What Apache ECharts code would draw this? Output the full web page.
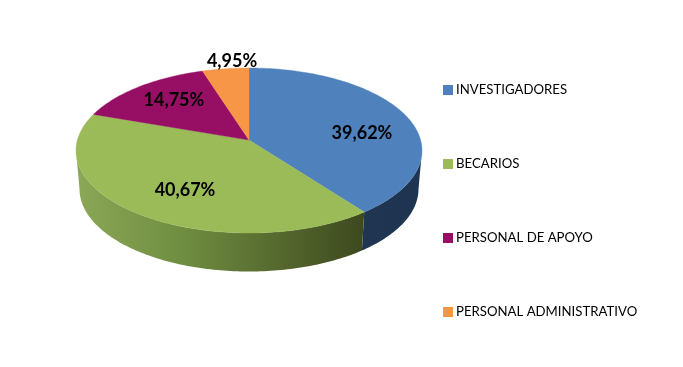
<!DOCTYPE html>
<html>
<head>
<meta charset="utf-8">
<style>html,body{margin:0;padding:0;background:#fff}#c{width:683px;height:367px}</style>
<script src="https://cdn.jsdelivr.net/npm/echarts@6/dist/echarts.min.js"></script>
</head>
<body>
<div id="c"></div>
<script>
const categories = ['INVESTIGADORES', 'BECARIOS', 'PERSONAL DE APOYO', 'PERSONAL ADMINISTRATIVO'];
const shares = [39.62, 40.67, 14.75, 4.95];
const shareLabels = ['39,62%', '40,67%', '14,75%', '4,95%'];
const topColors = ['#4f81bd', '#9bbb59', '#970f65', '#f79646'];

// layout of the tilted disc
const FONT = 'Lato, "Open Sans", sans-serif';
const disc = { cx: 249, cy: 150.5, rx: 173, ry: 82.5, apex: -0.127 };
const base = { cx: 249, cy: 189, rx: 169.5, ry: 82.5 };
// label centre per slice, in disc radii from the disc centre
const labelAt = [[0.653, -0.208], [-0.37, 0.484], [-0.434, -0.608], [-0.098, -1.088]];
const wallFills = [
  { stops: [[0, '#1f3552'], [1, '#1f3450']] },
  { stops: [[0, '#8ba757'], [0.35, '#718f42'], [0.7, '#56692f'], [1, '#3d491e']] },
  { stops: [[0, '#5c0a3e'], [1, '#5c0a3e']] },
  { stops: [[0, '#a8652c'], [1, '#a8652c']] }
];

const TAU = Math.PI * 2;
const total = shares.reduce((a, b) => a + b, 0);

// perspective: sector rays start at the apex, above the ellipse centre; returns unit-circle angle
function rimAngle(theta) {
  const dx = Math.sin(theta), dy = -Math.cos(theta), a0 = disc.apex;
  const b = a0 * dy;
  const t = -b + Math.sqrt(b * b - (a0 * a0 - 1));
  return Math.atan2(t * dx, -(a0 + t * dy));
}
function norm(phi) { return phi < 0 ? phi + TAU : phi; }
function onEllipse(e, phi) { return [e.cx + e.rx * Math.sin(phi), e.cy - e.ry * Math.cos(phi)]; }
function arc(e, p0, p1) {
  const n = Math.max(2, Math.ceil(Math.abs(p1 - p0) / 0.02)), out = [];
  for (let i = 0; i <= n; i++) out.push(onEllipse(e, p0 + (p1 - p0) * i / n));
  return out;
}

function renderSlice(sliceIndex) {
  const before = shares.slice(0, sliceIndex).reduce((a, b) => a + b, 0);
  const start = before / total * TAU, end = (before + shares[sliceIndex]) / total * TAU;
  const p0 = sliceIndex === 0 ? 0 : norm(rimAngle(start));
  const p1 = sliceIndex === shares.length - 1 ? TAU : norm(rimAngle(end));
  const children = [];
  const w0 = Math.max(p0, Math.PI / 2), w1 = Math.min(p1, Math.PI * 1.5);
  if (w1 > w0) {
    const wall = arc(disc, w0, w1).concat(arc(base, w0, w1).reverse());
    children.push({
      type: 'polygon',
      shape: { points: wall },
      style: {
        fill: new echarts.graphic.LinearGradient(0, 0, 1, 0,
          wallFills[sliceIndex].stops.map(s => ({ offset: s[0], color: s[1] })))
      }
    });
  }
  const apexPt = [disc.cx, disc.cy + disc.apex * disc.ry];
  children.push({
    type: 'polygon',
    shape: { points: [apexPt].concat(arc(disc, p0, p1)) },
    style: { fill: topColors[sliceIndex], stroke: topColors[sliceIndex], lineWidth: 0.4 }
  });
  return { type: 'group', children };
}
function renderLabel(sliceIndex) {
  return {
    type: 'text',
    z2: 100,
    style: {
      x: disc.cx + labelAt[sliceIndex][0] * disc.rx,
      y: disc.cy + labelAt[sliceIndex][1] * disc.ry,
      text: shareLabels[sliceIndex],
      align: 'center',
      verticalAlign: 'middle',
      fill: '#000',
      font: 'bold 18px ' + FONT
    }
  };
}

const series = categories.map((name, i) => ({
  type: 'custom',
  name,
  coordinateSystem: 'none',
  silent: true,
  itemStyle: { color: topColors[i] },
  data: [shares[i]],
  z: 2,
  renderItem: () => renderSlice(i)
}));
series.push({
  type: 'custom',
  name: 'labels',
  coordinateSystem: 'none',
  silent: true,
  data: shareLabels.map((_, i) => i),
  z: 5,
  renderItem: (p) => renderLabel(p.dataIndex)
});

const chart = echarts.init(document.getElementById('c'), null, { renderer: 'canvas' });
chart.setOption({
  animation: false,
  backgroundColor: '#fff',
  legend: {
    data: categories,
    orient: 'vertical',
    left: 443,
    top: 82,
    padding: 0,
    itemWidth: 10,
    itemHeight: 10,
    itemGap: 58,
    icon: 'rect',
    selectedMode: false,
    textStyle: { color: '#000', fontFamily: FONT, fontSize: 13.2, lineHeight: 14, padding: [0, 0, 2, -2] }
  },
  series
});
</script>
</body>
</html>
